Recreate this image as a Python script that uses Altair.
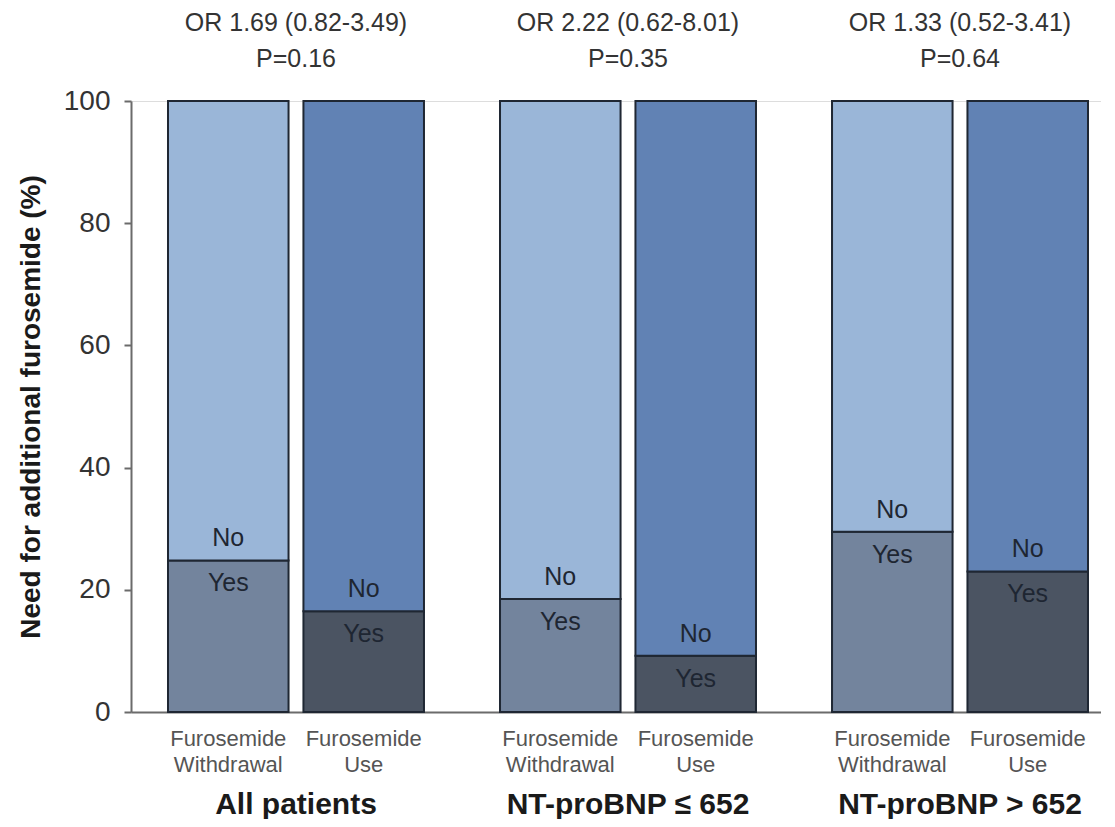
import altair as alt
import pandas as pd

groups = ["All patients", "NT-proBNP ≤ 652", "NT-proBNP > 652"]
arms = ["Withdrawal", "Use"]
arm_labels = ["Furosemide\nWithdrawal", "Furosemide\nUse"]
yes_withdrawal = [24.8, 18.5, 29.5]
yes_use = [16.5, 9.2, 23.0]
or_texts = ["OR 1.69 (0.82-3.49)", "OR 2.22 (0.62-8.01)", "OR 1.33 (0.52-3.41)"]
p_texts = ["P=0.16", "P=0.35", "P=0.64"]
y_ticks = [0, 20, 40, 60, 80, 100]

rows = []
for g, yw, yu in zip(groups, yes_withdrawal, yes_use):
    for arm, lab, yv in zip(arms, arm_labels, [yw, yu]):
        rows.append(dict(group=g, arm=arm, label=lab, response="Yes", y0=0.0, y1=yv, key=f"{arm} Yes", yes=yv))
        rows.append(dict(group=g, arm=arm, label=lab, response="No", y0=yv, y1=100.0, key=f"{arm} No", yes=yv))
seg = pd.DataFrame(rows)
bars_df = seg[seg.response == "Yes"].reset_index(drop=True)
ann = pd.DataFrame(dict(group=groups, or_t=or_texts, p_t=p_texts))

FONT = "Liberation Sans"
AX = "#6b6b6b"

x_enc = alt.X(
    "group:N", sort=groups,
    scale=alt.Scale(domain=groups, paddingInner=0.229, paddingOuter=0.0753, align=0.74),
    axis=alt.Axis(title=None, labelFontSize=30, labelFontWeight="bold", labelColor="#1a1a1a",
                  labelPadding=77, labelLimit=0, ticks=False, tickSize=0, domainColor=AX, domainWidth=2,
                  labelAngle=0, labelFont=FONT),
)
xo_enc = alt.XOffset("arm:N", sort=arms,
                     scale=alt.Scale(domain=arms, paddingInner=0.11, paddingOuter=0))
y_scale = alt.Scale(domain=[0, 100], nice=False)

bars = alt.Chart(seg).mark_bar(stroke="#1f2733", strokeWidth=2).encode(
    x=x_enc, xOffset=xo_enc,
    y=alt.Y("y0:Q", scale=y_scale,
            axis=alt.Axis(values=y_ticks, title="Need for additional furosemide (%)",
                          titleFontSize=28, titleFontWeight="bold", titleColor="#1a1a1a",
                          titleFont=FONT, labelFont=FONT,
                          labelFontSize=28, labelColor="#333333", tickSize=7, tickColor=AX,
                          tickWidth=2, domainColor=AX, domainWidth=2, labelPadding=14,
                          titlePadding=18, grid=False)),
    y2="y1:Q",
    color=alt.Color("key:N", legend=None,
                    scale=alt.Scale(domain=["Withdrawal No", "Withdrawal Yes", "Use No", "Use Yes"],
                                    range=["#9ab6d8", "#73849d", "#6182b4", "#4b5462"])),
)

no_txt = alt.Chart(bars_df).mark_text(baseline="alphabetic", dy=-14, fontSize=25, color="#1e2632", font=FONT).encode(
    x=x_enc, xOffset=xo_enc, y=alt.Y("yes:Q", scale=y_scale), text=alt.value("No"))
yes_txt = alt.Chart(bars_df).mark_text(baseline="alphabetic", dy=31, fontSize=25, color="#1e2632", font=FONT).encode(
    x=x_enc, xOffset=xo_enc, y=alt.Y("yes:Q", scale=y_scale), text=alt.value("Yes"))

arm_txt = alt.Chart(bars_df).mark_text(baseline="top", dy=17, fontSize=22, lineHeight=26, lineBreak="\n",
                                       color="#555555", font=FONT).encode(
    x=x_enc, xOffset=xo_enc, y=alt.datum(0), text="label:N")

or_txt = alt.Chart(ann).mark_text(baseline="alphabetic", dy=-70, fontSize=25, color="#333333", font=FONT).encode(
    x=x_enc, y=alt.datum(100), text="or_t:N")
p_txt = alt.Chart(ann).mark_text(baseline="alphabetic", dy=-34, fontSize=25, color="#333333", font=FONT).encode(
    x=x_enc, y=alt.datum(100), text="p_t:N")

chart = alt.layer(bars, no_txt, yes_txt, arm_txt, or_txt, p_txt).properties(
    width=970, height=611,
    autosize=alt.AutoSizeParams(type="none"),
    padding={"left": 123, "top": 93, "right": 0, "bottom": 107},
).configure_view(stroke=None).configure(font=FONT)

chart.save("out.html", embed_options={"renderer": "svg", "actions": False})
